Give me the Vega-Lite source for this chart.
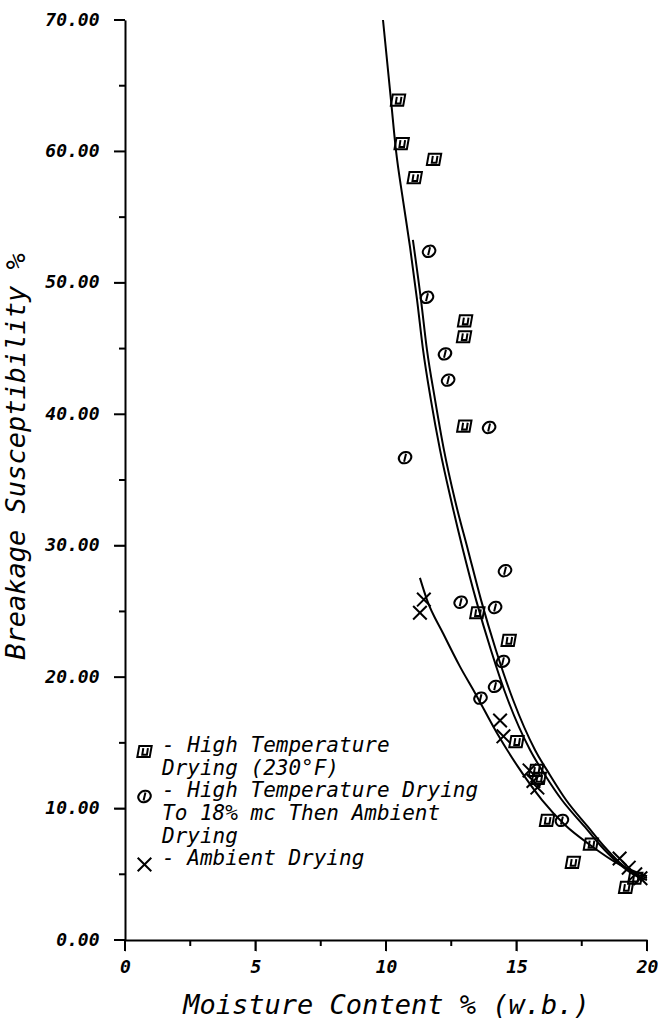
{
  "$schema": "https://vega.github.io/schema/vega-lite/v6.json",
  "width": 522,
  "height": 920,
  "autosize": "none",
  "padding": {"left": 125, "top": 20, "right": 11, "bottom": 78},
  "background": "white",
  "config": {
    "view": {"stroke": null},
    "font": "DejaVu Sans Mono",
    "axis": {
      "domainColor": "black",
      "domainWidth": 2,
      "grid": false,
      "labelFont": "DejaVu Sans Mono",
      "labelFontStyle": "italic",
      "labelFontWeight": "bold",
      "labelFontSize": 18,
      "labelColor": "black",
      "titleFont": "DejaVu Sans Mono",
      "titleFontStyle": "italic",
      "titleFontWeight": "normal",
      "titleFontSize": 27,
      "titleColor": "black"
    }
  },
  "datasets": {
    "observed": [
      {"method": "High Temperature Drying (230°F)", "mc": 10.46, "bs": 63.9},
      {"method": "High Temperature Drying (230°F)", "mc": 10.6, "bs": 60.6},
      {"method": "High Temperature Drying (230°F)", "mc": 11.1, "bs": 58.0},
      {"method": "High Temperature Drying (230°F)", "mc": 11.84, "bs": 59.4},
      {"method": "High Temperature Drying (230°F)", "mc": 13.03, "bs": 47.1},
      {"method": "High Temperature Drying (230°F)", "mc": 12.99, "bs": 45.9},
      {"method": "High Temperature Drying (230°F)", "mc": 13.0, "bs": 39.1},
      {"method": "High Temperature Drying (230°F)", "mc": 13.5, "bs": 24.9},
      {"method": "High Temperature Drying (230°F)", "mc": 14.7, "bs": 22.8},
      {"method": "High Temperature Drying (230°F)", "mc": 15.0, "bs": 15.1},
      {"method": "High Temperature Drying (230°F)", "mc": 15.75, "bs": 12.9},
      {"method": "High Temperature Drying (230°F)", "mc": 15.85, "bs": 12.3},
      {"method": "High Temperature Drying (230°F)", "mc": 16.17, "bs": 9.1},
      {"method": "High Temperature Drying (230°F)", "mc": 17.16, "bs": 5.9},
      {"method": "High Temperature Drying (230°F)", "mc": 17.85, "bs": 7.3},
      {"method": "High Temperature Drying (230°F)", "mc": 19.2, "bs": 4.0},
      {"method": "High Temperature Drying (230°F)", "mc": 19.55, "bs": 4.7},
      {"method": "High Temperature Drying To 18% mc Then Ambient Drying", "mc": 11.65, "bs": 52.4},
      {"method": "High Temperature Drying To 18% mc Then Ambient Drying", "mc": 11.57, "bs": 48.9},
      {"method": "High Temperature Drying To 18% mc Then Ambient Drying", "mc": 12.26, "bs": 44.6},
      {"method": "High Temperature Drying To 18% mc Then Ambient Drying", "mc": 12.38, "bs": 42.6},
      {"method": "High Temperature Drying To 18% mc Then Ambient Drying", "mc": 13.95, "bs": 39.0},
      {"method": "High Temperature Drying To 18% mc Then Ambient Drying", "mc": 10.73, "bs": 36.7},
      {"method": "High Temperature Drying To 18% mc Then Ambient Drying", "mc": 14.56, "bs": 28.1},
      {"method": "High Temperature Drying To 18% mc Then Ambient Drying", "mc": 12.86, "bs": 25.7},
      {"method": "High Temperature Drying To 18% mc Then Ambient Drying", "mc": 14.18, "bs": 25.3},
      {"method": "High Temperature Drying To 18% mc Then Ambient Drying", "mc": 14.48, "bs": 21.2},
      {"method": "High Temperature Drying To 18% mc Then Ambient Drying", "mc": 14.18, "bs": 19.3},
      {"method": "High Temperature Drying To 18% mc Then Ambient Drying", "mc": 13.62, "bs": 18.4},
      {"method": "High Temperature Drying To 18% mc Then Ambient Drying", "mc": 16.74, "bs": 9.1},
      {"method": "Ambient Drying", "mc": 11.45, "bs": 25.9},
      {"method": "Ambient Drying", "mc": 11.3, "bs": 24.9},
      {"method": "Ambient Drying", "mc": 14.37, "bs": 16.7},
      {"method": "Ambient Drying", "mc": 14.5, "bs": 15.5},
      {"method": "Ambient Drying", "mc": 15.5, "bs": 12.9},
      {"method": "Ambient Drying", "mc": 15.65, "bs": 12.1},
      {"method": "Ambient Drying", "mc": 15.8, "bs": 11.6},
      {"method": "Ambient Drying", "mc": 18.95, "bs": 6.2},
      {"method": "Ambient Drying", "mc": 19.3, "bs": 5.5},
      {"method": "Ambient Drying", "mc": 19.55, "bs": 5.0},
      {"method": "Ambient Drying", "mc": 19.75, "bs": 4.7}
    ],
    "fitted": [
      {"method": "High Temperature Drying (230°F)", "mc": 9.885, "bs": 70.0},
      {"method": "High Temperature Drying (230°F)", "mc": 10.19, "bs": 63.93},
      {"method": "High Temperature Drying (230°F)", "mc": 10.38, "bs": 60.12},
      {"method": "High Temperature Drying (230°F)", "mc": 10.65, "bs": 56.32},
      {"method": "High Temperature Drying (230°F)", "mc": 10.92, "bs": 52.74},
      {"method": "High Temperature Drying (230°F)", "mc": 11.19, "bs": 48.71},
      {"method": "High Temperature Drying (230°F)", "mc": 11.42, "bs": 44.9},
      {"method": "High Temperature Drying (230°F)", "mc": 11.72, "bs": 41.1},
      {"method": "High Temperature Drying (230°F)", "mc": 12.07, "bs": 37.29},
      {"method": "High Temperature Drying (230°F)", "mc": 12.49, "bs": 33.49},
      {"method": "High Temperature Drying (230°F)", "mc": 12.95, "bs": 29.68},
      {"method": "High Temperature Drying (230°F)", "mc": 13.45, "bs": 25.88},
      {"method": "High Temperature Drying (230°F)", "mc": 14.02, "bs": 22.07},
      {"method": "High Temperature Drying (230°F)", "mc": 14.67, "bs": 18.26},
      {"method": "High Temperature Drying (230°F)", "mc": 15.52, "bs": 14.46},
      {"method": "High Temperature Drying (230°F)", "mc": 16.09, "bs": 12.56},
      {"method": "High Temperature Drying (230°F)", "mc": 16.74, "bs": 10.65},
      {"method": "High Temperature Drying (230°F)", "mc": 17.62, "bs": 8.6},
      {"method": "High Temperature Drying (230°F)", "mc": 18.2, "bs": 7.23},
      {"method": "High Temperature Drying (230°F)", "mc": 18.85, "bs": 5.94},
      {"method": "High Temperature Drying (230°F)", "mc": 19.46, "bs": 5.02},
      {"method": "High Temperature Drying (230°F)", "mc": 20.0, "bs": 4.57},
      {"method": "High Temperature Drying To 18% mc Then Ambient Drying", "mc": 11.03, "bs": 53.27},
      {"method": "High Temperature Drying To 18% mc Then Ambient Drying", "mc": 11.34, "bs": 48.71},
      {"method": "High Temperature Drying To 18% mc Then Ambient Drying", "mc": 11.57, "bs": 44.9},
      {"method": "High Temperature Drying To 18% mc Then Ambient Drying", "mc": 11.88, "bs": 41.1},
      {"method": "High Temperature Drying To 18% mc Then Ambient Drying", "mc": 12.22, "bs": 37.29},
      {"method": "High Temperature Drying To 18% mc Then Ambient Drying", "mc": 12.64, "bs": 33.49},
      {"method": "High Temperature Drying To 18% mc Then Ambient Drying", "mc": 13.14, "bs": 29.68},
      {"method": "High Temperature Drying To 18% mc Then Ambient Drying", "mc": 13.64, "bs": 25.88},
      {"method": "High Temperature Drying To 18% mc Then Ambient Drying", "mc": 14.21, "bs": 22.07},
      {"method": "High Temperature Drying To 18% mc Then Ambient Drying", "mc": 14.87, "bs": 18.26},
      {"method": "High Temperature Drying To 18% mc Then Ambient Drying", "mc": 15.71, "bs": 14.46},
      {"method": "High Temperature Drying To 18% mc Then Ambient Drying", "mc": 16.28, "bs": 12.56},
      {"method": "High Temperature Drying To 18% mc Then Ambient Drying", "mc": 16.9, "bs": 10.65},
      {"method": "High Temperature Drying To 18% mc Then Ambient Drying", "mc": 17.74, "bs": 8.6},
      {"method": "High Temperature Drying To 18% mc Then Ambient Drying", "mc": 18.31, "bs": 7.23},
      {"method": "High Temperature Drying To 18% mc Then Ambient Drying", "mc": 18.93, "bs": 5.94},
      {"method": "High Temperature Drying To 18% mc Then Ambient Drying", "mc": 19.5, "bs": 5.1},
      {"method": "High Temperature Drying To 18% mc Then Ambient Drying", "mc": 20.0, "bs": 4.72},
      {"method": "Ambient Drying", "mc": 11.3, "bs": 27.55},
      {"method": "Ambient Drying", "mc": 11.57, "bs": 25.88},
      {"method": "Ambient Drying", "mc": 12.18, "bs": 23.36},
      {"method": "Ambient Drying", "mc": 12.84, "bs": 20.78},
      {"method": "Ambient Drying", "mc": 13.41, "bs": 18.8},
      {"method": "Ambient Drying", "mc": 14.25, "bs": 15.75},
      {"method": "Ambient Drying", "mc": 15.06, "bs": 13.17},
      {"method": "Ambient Drying", "mc": 15.98, "bs": 10.65},
      {"method": "Ambient Drying", "mc": 16.86, "bs": 8.75},
      {"method": "Ambient Drying", "mc": 17.82, "bs": 7.23},
      {"method": "Ambient Drying", "mc": 18.97, "bs": 5.71},
      {"method": "Ambient Drying", "mc": 20.0, "bs": 4.85}
    ],
    "xMajorTicks": [{"mc": 0}, {"mc": 5}, {"mc": 10}, {"mc": 15}, {"mc": 20}],
    "xMinorTicks": [{"mc": 2.5}, {"mc": 7.5}, {"mc": 12.5}, {"mc": 17.5}],
    "yMajorTicks": [{"bs": 0}, {"bs": 10}, {"bs": 20}, {"bs": 30}, {"bs": 40}, {"bs": 50}, {"bs": 60}, {"bs": 70}],
    "yMinorTicks": [{"bs": 5}, {"bs": 15}, {"bs": 25}, {"bs": 35}, {"bs": 45}, {"bs": 55}, {"bs": 65}]
  },
  "layer": [
    {
      "data": {"name": "xMajorTicks"},
      "mark": {"type": "tick", "orient": "vertical", "color": "black", "opacity": 1, "thickness": 2, "size": 11, "yOffset": 5.5},
      "encoding": {
        "x": {"field": "mc", "type": "quantitative", "scale": {"domain": [0, 20], "nice": false, "zero": false}, "axis": null},
        "y": {"datum": 0, "type": "quantitative", "scale": {"domain": [0, 70], "nice": false, "zero": false}, "axis": null}
      }
    },
    {
      "data": {"name": "xMinorTicks"},
      "mark": {"type": "tick", "orient": "vertical", "color": "black", "opacity": 1, "thickness": 2, "size": 6, "yOffset": 3},
      "encoding": {
        "x": {"field": "mc", "type": "quantitative", "axis": null},
        "y": {"datum": 0, "type": "quantitative", "axis": null}
      }
    },
    {
      "data": {"name": "yMajorTicks"},
      "mark": {"type": "tick", "orient": "horizontal", "color": "black", "opacity": 1, "thickness": 2, "size": 11, "xOffset": -5.5},
      "encoding": {
        "y": {"field": "bs", "type": "quantitative", "axis": null},
        "x": {"datum": 0, "type": "quantitative", "axis": null}
      }
    },
    {
      "data": {"name": "yMinorTicks"},
      "mark": {"type": "tick", "orient": "horizontal", "color": "black", "opacity": 1, "thickness": 2, "size": 6, "xOffset": -3},
      "encoding": {
        "y": {"field": "bs", "type": "quantitative", "axis": null},
        "x": {"datum": 0, "type": "quantitative", "axis": null}
      }
    },
    {
      "data": {"name": "fitted"},
      "mark": {"type": "line", "color": "black", "strokeWidth": 2, "interpolate": "monotone"},
      "encoding": {
        "x": {"field": "mc", "type": "quantitative", "axis": null},
        "y": {"field": "bs", "type": "quantitative", "axis": null},
        "detail": {"field": "method", "type": "nominal"}
      }
    },
    {
      "data": {"name": "observed"},
      "mark": {"type": "point", "filled": false, "stroke": "black", "strokeWidth": 2, "size": 256, "opacity": 1},
      "encoding": {
        "x": {
          "field": "mc",
          "type": "quantitative",
          "axis": {
            "orient": "bottom",
            "title": "Moisture Content % (w.b.)",
            "values": [0, 5, 10, 15, 20],
            "format": "d",
            "tickSize": 11,
            "labelPadding": 7,
            "labelFlush": false,
            "titlePadding": 16
          }
        },
        "y": {
          "field": "bs",
          "type": "quantitative",
          "axis": {
            "orient": "left",
            "title": "Breakage Susceptibility %",
            "values": [0, 10, 20, 30, 40, 50, 60, 70],
            "format": ".2f",
            "tickSize": 11,
            "labelPadding": 15,
            "labelFlush": false,
            "titlePadding": 14,
            "titleY": 436
          }
        },
        "shape": {
          "field": "method",
          "type": "nominal",
          "scale": {
            "domain": [
              "High Temperature Drying (230°F)",
              "High Temperature Drying To 18% mc Then Ambient Drying",
              "Ambient Drying"
            ],
            "range": [
              "M-0.65,-0.7L0.9,-0.7L0.65,0.7L-0.9,0.7Z M-0.15,-0.42L-0.28,0.42L0.3,0.42L0.43,-0.42",
              "M-0.69,0.4A0.8,0.62,-30,1,1,0.69,-0.4A0.8,0.62,-30,1,1,-0.69,0.4Z M0.12,-0.5L-0.12,0.5",
              "M-0.85,-0.85L0.85,0.85M-0.85,0.85L0.85,-0.85"
            ]
          },
          "legend": {
            "title": null,
            "orient": "none",
            "legendX": 9,
            "legendY": 721,
            "padding": 0,
            "symbolSize": 256,
            "symbolStrokeWidth": 2,
            "symbolStrokeColor": "black",
            "symbolFillColor": "transparent",
            "labelFont": "DejaVu Sans Mono",
            "labelFontStyle": "italic",
            "labelFontSize": 21,
            "labelColor": "black",
            "labelLimit": 600,
            "labelOffset": 7,
            "labelBaseline": "alphabetic",
            "rowPadding": 0,
            "encode": {"labels": {"update": {"dy": {"value": 8}}}},
            "labelExpr": "datum.label === 'Ambient Drying' ? '- Ambient Drying' : (indexof(datum.label, 'Ambient') > 0 ? ['- High Temperature Drying', '  To 18% mc Then Ambient', '  Drying'] : ['- High Temperature', '  Drying (230°F)'])"
          }
        }
      }
    }
  ],
  "resolve": {"axis": {"x": "independent", "y": "independent"}}
}
